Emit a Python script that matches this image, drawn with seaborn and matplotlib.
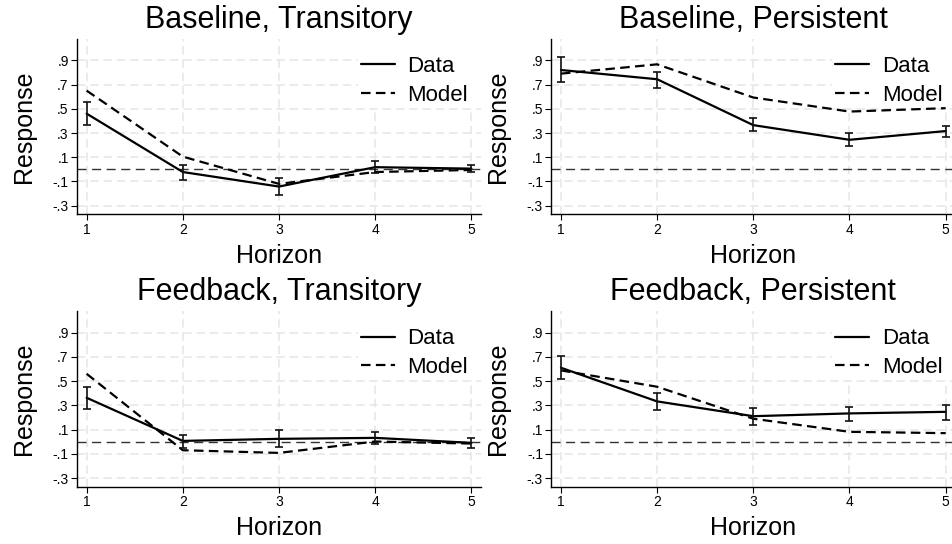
import numpy as np
import pandas as pd
import matplotlib
matplotlib.use("Agg")
import matplotlib.pyplot as plt
from matplotlib.patches import Rectangle
import seaborn as sns

horizon = [1, 2, 3, 4, 5]
titles = ["Baseline, Transitory", "Baseline, Persistent",
          "Feedback, Transitory", "Feedback, Persistent"]

data_bt = [0.46, -0.022, -0.142, 0.018, 0.006]
lo_bt = [0.368, -0.085, -0.214, -0.030, -0.025]
hi_bt = [0.557, 0.033, -0.071, 0.071, 0.040]
model_bt = [0.65, 0.105, -0.12, -0.022, -0.005]

data_bp = [0.82, 0.744, 0.365, 0.244, 0.316]
lo_bp = [0.719, 0.670, 0.318, 0.192, 0.270]
hi_bp = [0.927, 0.807, 0.420, 0.296, 0.360]
model_bp = [0.79, 0.867, 0.593, 0.477, 0.505]

data_ft = [0.363, 0.007, 0.024, 0.032, -0.009]
lo_ft = [0.272, -0.050, -0.045, -0.020, -0.050]
hi_ft = [0.451, 0.057, 0.098, 0.082, 0.033]
model_ft = [0.561, -0.07, -0.092, 0.002, -0.015]

data_fp = [0.611, 0.333, 0.211, 0.234, 0.247]
lo_fp = [0.514, 0.261, 0.142, 0.168, 0.178]
hi_fp = [0.710, 0.400, 0.280, 0.288, 0.305]
model_fp = [0.589, 0.454, 0.190, 0.082, 0.071]

yticks = [0.9, 0.7, 0.5, 0.3, 0.1, -0.1, -0.3]
ytick_labels = [".9", ".7", ".5", ".3", ".1", "-.1", "-.3"]

panels = [
    (data_bt, lo_bt, hi_bt, model_bt),
    (data_bp, lo_bp, hi_bp, model_bp),
    (data_ft, lo_ft, hi_ft, model_ft),
    (data_fp, lo_fp, hi_fp, model_fp),
]

sns.set_style("white")
plt.rcParams['font.family'] = ['Liberation Sans', 'DejaVu Sans']
plt.rcParams['text.color'] = 'black'
plt.rcParams['axes.labelcolor'] = 'black'
plt.rcParams['xtick.color'] = 'black'
plt.rcParams['ytick.color'] = 'black'

W, H = 952, 544
fig = plt.figure(figsize=(W / 100, H / 100), dpi=100)

# pixel boxes (left, top, right, bottom)
boxes = [
    (77, 39, 481, 214.3),
    (551.3, 39, 955.3, 214.3),
    (77, 311.4, 481, 486.7),
    (551.3, 311.4, 955.3, 486.7),
]

for (l, t, r, b), title, (d, lo, hi, m) in zip(boxes, titles, panels):
    aw, ah = r - l, b - t
    ax = fig.add_axes([l / W, 1 - b / H, aw / W, ah / H])
    ax.set_xlim(0.9, 5.1)
    ax.set_ylim(-0.371, 1.076)
    # grid
    for yv in yticks:
        ax.axhline(yv, color="#e6e6e6", lw=1.1, ls=(0, (5.5, 3.2)), zorder=0)
    for xv in horizon:
        ax.axvline(xv, color="#e6e6e6", lw=1.1, ls=(0, (5.5, 3.2)), zorder=0)
    # white legend area that hides the grid
    ax.add_patch(Rectangle((1 - 123 / aw, 1 - 69 / ah), 123 / aw, 69 / ah,
                           transform=ax.transAxes, facecolor="white",
                           edgecolor="none", zorder=0.5, clip_on=False))
    ax.axhline(0, color="#333333", lw=1.0, ls=(0, (6.5, 4)), zorder=1)

    df = pd.DataFrame({"Horizon": horizon * 2,
                       "Response": d + m,
                       "Series": ["Data"] * 5 + ["Model"] * 5})
    sns.lineplot(data=df, x="Horizon", y="Response", style="Series",
                 dashes={"Data": "", "Model": (4.3, 2.4)},
                 color="black", lw=1.6, ax=ax, zorder=3, legend=True)
    d_arr = np.array(d)
    yerr = np.vstack([d_arr - np.array(lo), np.array(hi) - d_arr])
    ax.errorbar(horizon, d, yerr=yerr, fmt="none", ecolor="#111111",
                elinewidth=1.2, capsize=3.2, capthick=1.2, zorder=4)

    leg = ax.legend(loc="upper right", bbox_to_anchor=(1 - 3 / aw, 1 - 7 / ah),
                    borderaxespad=0, frameon=False, fontsize=16,
                    handlelength=1.55, handletextpad=0.55, labelspacing=0.35,
                    borderpad=0.45)
    leg.set_zorder(5)

    ax.set_title(title, fontsize=22, pad=8, color="black")
    ax.set_xlabel("Horizon", fontsize=18, labelpad=5)
    ax.set_ylabel("Response", fontsize=18, labelpad=12)
    ax.set_xticks(horizon)
    ax.set_xticklabels([str(h) for h in horizon], fontsize=10)
    ax.set_yticks(yticks)
    ax.set_yticklabels(ytick_labels, fontsize=10)
    ax.tick_params(axis="both", direction="out", length=4, width=0.8,
                   color="black", pad=2, left=True, bottom=True)
    for s in ["top", "right"]:
        ax.spines[s].set_visible(False)
    for s in ["left", "bottom"]:
        ax.spines[s].set_color("black")
        ax.spines[s].set_linewidth(1.0)

fig.savefig("out.png", dpi=100)
